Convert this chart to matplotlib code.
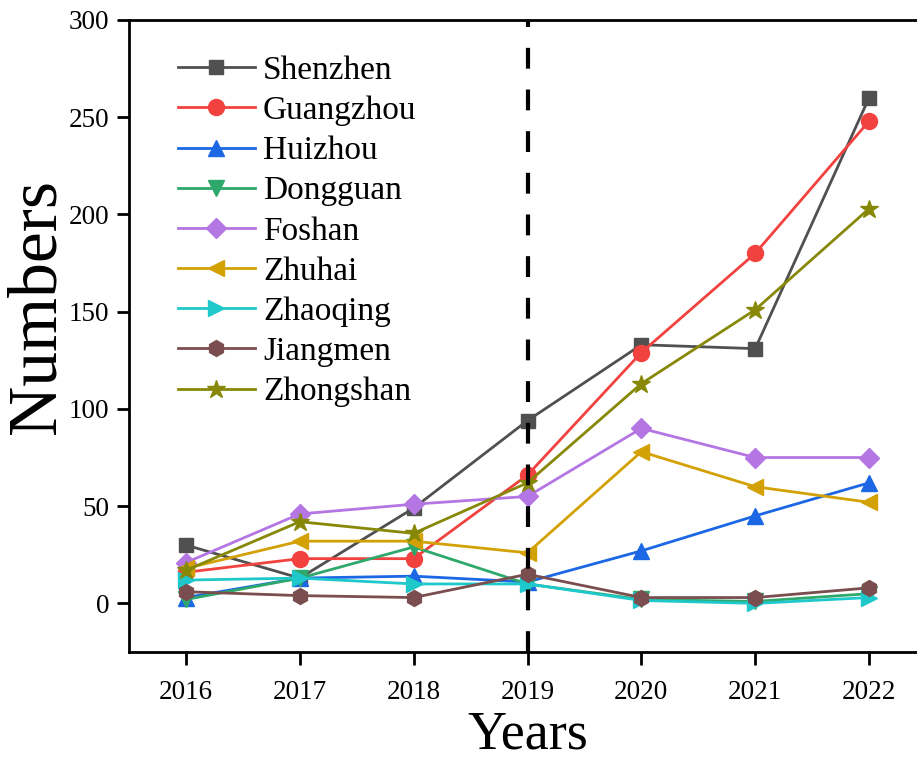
import matplotlib
matplotlib.use("Agg")
import matplotlib.pyplot as plt

years = [2016, 2017, 2018, 2019, 2020, 2021, 2022]

cities = ["Shenzhen", "Guangzhou", "Huizhou", "Dongguan", "Foshan",
          "Zhuhai", "Zhaoqing", "Jiangmen", "Zhongshan"]

shenzhen = [30, 13, 49, 94, 133, 131, 260]
guangzhou = [16, 23, 23, 66, 129, 180, 248]
huizhou = [3, 13, 14, 11, 27, 45, 62]
dongguan = [2, 13, 29, 10, 2, 1, 5]
foshan = [21, 46, 51, 55, 90, 75, 75]
zhuhai = [18, 32, 32, 26, 78, 60, 52]
zhaoqing = [12, 13, 10, 10, 1.5, 0, 3]
jiangmen = [6, 4, 3, 15, 3, 3, 8]
zhongshan = [17, 42, 36, 62, 113, 151, 203]

series = [shenzhen, guangzhou, huizhou, dongguan, foshan,
          zhuhai, zhaoqing, jiangmen, zhongshan]
colors = ["#505050", "#F2423F", "#1C67E3", "#2EA86B", "#B476E2",
          "#D3A104", "#1FC8CB", "#7A4E4E", "#878807"]
markers = ["s", "o", "^", "v", "D", "<", ">", "h", "*"]
msizes = [9.5, 11.5, 11.5, 11.5, 10.5, 11.5, 11.5, 11.5, 13.5]

divider_year = 2019

plt.rcParams["font.family"] = ["Liberation Serif", "DejaVu Serif"]

fig = plt.figure(figsize=(9.17, 7.62), dpi=100)
ax = fig.add_axes([129 / 917, 110 / 762, 797 / 917, 632 / 762])

for name, vals, c, m, ms in zip(cities, series, colors, markers, msizes):
    ax.plot(years, vals, color=c, marker=m, markersize=ms, linewidth=2.0,
            markerfacecolor=c, markeredgecolor=c, label=name)

ax.axvline(divider_year, color="black", linewidth=3.0,
           linestyle=(0, (5, 5)), zorder=10)

ax.set_xlim(2015.5, 2022.5)
ax.set_ylim(-25, 300)
ax.set_xticks(years)
ax.set_yticks([0, 50, 100, 150, 200, 250, 300])

for s in ax.spines.values():
    s.set_linewidth(2.0)

ax.tick_params(axis="both", direction="out", width=2.0, length=9,
               labelsize=19.5, colors="black")
ax.tick_params(axis="x", pad=11)
ax.tick_params(axis="y", pad=5)
ax.tick_params(top=False, right=False)

ax.set_xlabel("Years", fontsize=39, labelpad=4)
ax.set_ylabel("Numbers", fontsize=50)
ax.yaxis.set_label_coords(-0.075, 0.546)

leg = ax.legend(loc="upper left", bbox_to_anchor=(0.0615, 0.944),
                frameon=False, fontsize=24, borderpad=0, borderaxespad=0,
                handlelength=2.3, handletextpad=0.25, labelspacing=0.29)

fig.savefig("out.png", dpi=100)
